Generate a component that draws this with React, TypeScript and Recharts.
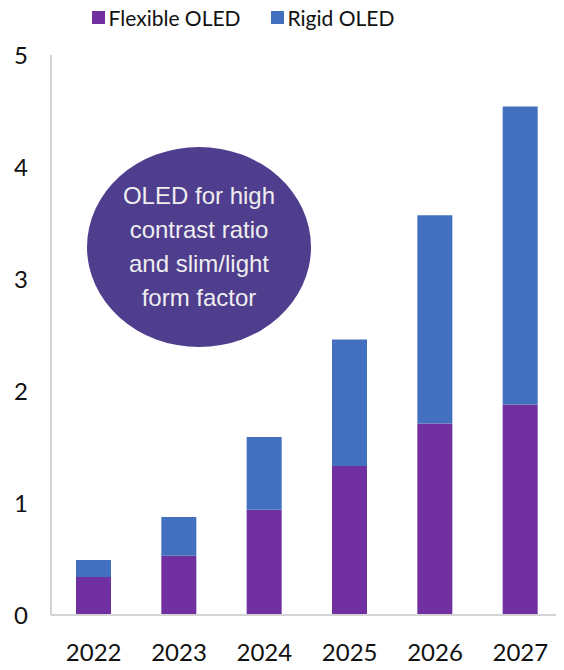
import { Bar, BarChart, Legend, XAxis, YAxis } from "recharts";

const years = ["2022", "2023", "2024", "2025", "2026", "2027"];
const flexible = [0.34, 0.53, 0.94, 1.33, 1.71, 1.88];
const rigid = [0.15, 0.345, 0.65, 1.13, 1.86, 2.66];
const yTicks = [0, 1, 2, 3, 4, 5];

const data = years.map((year, i) => ({ year, flexible: flexible[i], rigid: rigid[i] }));

const PURPLE = "#7030A0";
const BLUE = "#4270BE";
const BORDER = "#d4d4d4";
const FONT = "Lato, 'Open Sans', sans-serif";

function LegendContent() {
    const items = [
        { label: "Flexible OLED", color: PURPLE },
        { label: "Rigid OLED", color: BLUE },
    ];
    return (
        <div style={{ display: "flex", justifyContent: "center", gap: 30, fontFamily: FONT, fontSize: 21, color: "#111", marginLeft: -78 }}>
            {items.map((it) => (
                <div key={it.label} style={{ display: "flex", alignItems: "center" }}>
                    <span style={{ width: 13, height: 13, background: it.color, marginRight: 4, display: "inline-block" }} />
                    {it.label}
                </div>
            ))}
        </div>
    );
}

export default function App() {
    return (
        <div style={{ position: "relative", margin: -8, width: 564, height: 670, overflow: "hidden", background: "#fff" }}>
            <BarChart width={564} height={670} data={data} margin={{ top: 55, right: 1, left: 0, bottom: 10 }}>
                <XAxis
                    dataKey="year"
                    axisLine={{ stroke: BORDER, strokeWidth: 2 }}
                    tickLine={false}
                    tickMargin={23}
                    height={45}
                    tick={{ fill: "#111", fontSize: 24, fontFamily: FONT }}
                />
                <XAxis xAxisId="top" dataKey="year" orientation="top" axisLine={{ stroke: BORDER, strokeWidth: 2 }} tick={false} tickLine={false} height={0} />
                <YAxis
                    domain={[0, 5]}
                    ticks={yTicks}
                    width={51}
                    axisLine={{ stroke: BORDER, strokeWidth: 2 }}
                    tickLine={false}
                    tickMargin={17}
                    tick={{ fill: "#111", fontSize: 24, fontFamily: FONT }}
                />
                <Legend verticalAlign="middle" align="center" content={<LegendContent />} wrapperStyle={{ top: 5, left: 0, width: 564 }} />
                <Bar dataKey="flexible" name="Flexible OLED" stackId="a" fill={PURPLE} barSize={35} isAnimationActive={false} />
                <Bar dataKey="rigid" name="Rigid OLED" stackId="a" fill={BLUE} barSize={35} isAnimationActive={false} />
            </BarChart>
            <div
                style={{
                    position: "absolute",
                    left: 87,
                    top: 147,
                    width: 224,
                    height: 200,
                    borderRadius: "50%",
                    background: "#4F3D8E",
                    color: "#eeeeee",
                    fontFamily: "'Liberation Sans', Arial, sans-serif",
                    fontSize: 24,
                    lineHeight: "34px",
                    textAlign: "center",
                    display: "flex",
                    alignItems: "center",
                    justifyContent: "center",
                }}
            >
                <div>
                    OLED for high
                    <br />
                    contrast ratio
                    <br />
                    and slim/light
                    <br />
                    form factor
                </div>
            </div>
        </div>
    );
}
